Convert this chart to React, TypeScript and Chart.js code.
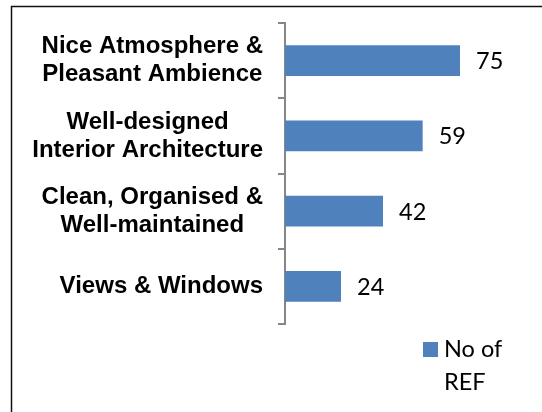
import { useEffect, useRef } from "react";
import { Chart, registerables } from "chart.js";

Chart.register(...registerables);

const categories: string[][] = [
  ["Nice Atmosphere &", "Pleasant Ambience"],
  ["Well-designed", "Interior Architecture"],
  ["Clean, Organised &", "Well-maintained"],
  ["Views & Windows"],
];
const values: number[] = [75, 59, 42, 24];
const seriesName: string[] = ["No of", "REF"];
const xMax = 90;

const BAR_COLOR = "#4F81BD";
const AXIS_COLOR = "#868686";
const VALUE_FONT = '23.5px Lato, "Open Sans", sans-serif';
const CAT_FONT = 'bold 24px "Liberation Sans", Arial, sans-serif';

const framePlugin = {
  id: "frame",
  afterDraw(chart: any) {
    const ctx = chart.ctx;
    ctx.save();
    ctx.strokeStyle = "#111";
    ctx.lineWidth = 1.5;
    ctx.beginPath();
    ctx.moveTo(11.5, chart.height);
    ctx.lineTo(11.5, 6.5);
    ctx.lineTo(chart.width, 6.5);
    ctx.stroke();
    ctx.restore();
  },
};

const catLabelPlugin = {
  id: "catLabels",
  afterDraw(chart: any) {
    const ctx = chart.ctx;
    const y = chart.scales.y;
    ctx.save();
    ctx.font = CAT_FONT;
    ctx.fillStyle = "#000";
    ctx.textAlign = "center";
    ctx.textBaseline = "middle";
    const right = y.right - 7 - 15;
    const lh = 28;
    categories.forEach((lines, i) => {
      const cy = y.getPixelForValue(i);
      const w = Math.max(...lines.map((l) => ctx.measureText(l).width));
      const cx = right - w / 2;
      lines.forEach((l, j) => {
        ctx.fillText(l, cx, cy + (j - (lines.length - 1) / 2) * lh);
      });
    });
    ctx.restore();
  },
};

const valueLabelPlugin = {
  id: "valueLabels",
  afterDatasetsDraw(chart: any) {
    const ctx = chart.ctx;
    const meta = chart.getDatasetMeta(0);
    ctx.save();
    ctx.font = VALUE_FONT;
    ctx.fillStyle = "#000";
    ctx.textAlign = "left";
    ctx.textBaseline = "middle";
    meta.data.forEach((el: any, i: number) => {
      ctx.fillText(String(values[i]), el.x + 16, el.y + 1);
    });
    ctx.restore();
  },
};

const legendPlugin = {
  id: "customLegend",
  afterDraw(chart: any) {
    const ctx = chart.ctx;
    const area = chart.chartArea;
    const sx = area.left + 138;
    const sy = area.bottom + 18;
    ctx.save();
    ctx.fillStyle = BAR_COLOR;
    ctx.fillRect(sx, sy, 15, 15);
    ctx.font = VALUE_FONT;
    ctx.fillStyle = "#000";
    ctx.textAlign = "left";
    ctx.textBaseline = "middle";
    seriesName.forEach((t, j) => {
      ctx.fillText(t, sx + 21, sy + 7 + j * 33);
    });
    ctx.restore();
  },
};

export default function App() {
  const ref = useRef<HTMLCanvasElement | null>(null);
  useEffect(() => {
    if (!ref.current) return;
    const chart = new Chart(ref.current, {
      type: "bar",
      data: {
        labels: categories.map((c) => c.join(" ")),
        datasets: [
          {
            label: seriesName.join(" "),
            data: values,
            backgroundColor: BAR_COLOR,
            borderWidth: 0,
            barPercentage: 0.41,
            categoryPercentage: 1,
          },
        ],
      },
      options: {
        indexAxis: "y",
        animation: false,
        responsive: true,
        maintainAspectRatio: false,
        layout: { padding: { left: 0, right: 47, top: 23, bottom: 88 } },
        plugins: {
          legend: { display: false },
          tooltip: { enabled: false },
        },
        scales: {
          x: { display: false, min: 0, max: xMax },
          y: {
            offset: true,
            grid: {
              offset: true,
              drawOnChartArea: false,
              drawTicks: true,
              tickLength: 7,
              color: AXIS_COLOR,
              lineWidth: 2,
            },
            border: { display: true, color: AXIS_COLOR, width: 2 },
            ticks: { display: false },
            afterFit: (scale: any) => {
              scale.width = 285;
            },
          },
        },
      },
      plugins: [framePlugin, catLabelPlugin, valueLabelPlugin, legendPlugin],
    });
    return () => chart.destroy();
  }, []);
  return (
    <div style={{ position: "absolute", left: 0, top: 0, width: 542, height: 412, background: "#fff" }}>
      <canvas ref={ref} />
    </div>
  );
}
